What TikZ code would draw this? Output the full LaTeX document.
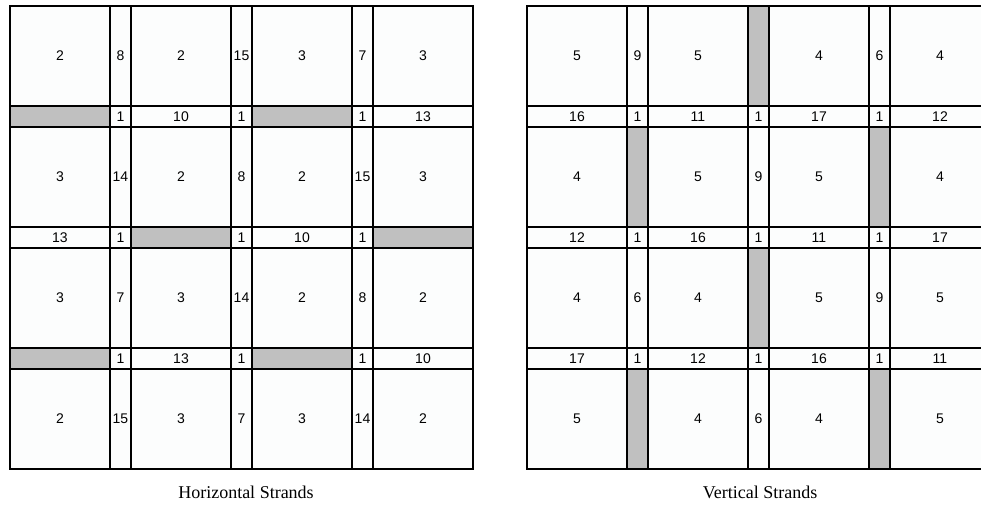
\documentclass[tikz,border=0pt]{standalone}
\usepackage{fontspec}
\setmainfont{Liberation Serif}
\newfontfamily\cellfont{Liberation Sans}
\usetikzlibrary{positioning}

\definecolor{shadegray}{HTML}{C0C0C0}
\definecolor{paper}{HTML}{FCFDFD}

% offsets and sizes of the rows/columns (px), big - slim - big ...
\def\cellpos{{0,100,121,221,242,342,363}}
\def\cellsize{{100,21,100,21,100,21,100}}

\begin{document}
\begin{tikzpicture}[x=0.75pt, y=-0.75pt,
  cell/.style={draw, line width=1.8pt, inner sep=0pt, outer sep=0pt, fill=paper,
    font=\cellfont\fontsize{10.5}{11}\selectfont},
  shaded/.style={fill=shadegray},
  caption/.style={font=\fontsize{13.5}{15}\selectfont}]
\useasboundingbox (0,0) rectangle (981,504);
\clip (0,0) rectangle (981,504);

% Horizontal strands (0 = shaded cell)
\begin{scope}[shift={(10,6)}]
\foreach \labels [count=\r] in {{2,8,2,15,3,7,3},{0,1,10,1,0,1,13},{3,14,2,8,2,15,3},
    {13,1,0,1,10,1,0},{3,7,3,14,2,8,2},{0,1,13,1,0,1,10},{2,15,3,7,3,14,2}} {
  \foreach \lab [count=\c] in \labels {
    \pgfmathsetmacro\cx{\cellpos[\c-1]+\cellsize[\c-1]/2}
    \pgfmathsetmacro\cy{\cellpos[\r-1]+\cellsize[\r-1]/2}
    \pgfmathsetmacro\w{\cellsize[\c-1]*0.75}
    \pgfmathsetmacro\h{\cellsize[\r-1]*0.75}
    \ifnum\lab=0
      \node[cell, shaded, minimum width=\w pt, minimum height=\h pt] (h-\r-\c) at (\cx,\cy) {};
    \else
      \node[cell, minimum width=\w pt, minimum height=\h pt] (h-\r-\c) at (\cx,\cy) {\lab};
    \fi
  }
}
\end{scope}
\node[caption] (hcap) at (246,492) {Horizontal Strands};

% Vertical strands
\begin{scope}[shift={(527,6)}]
\foreach \labels [count=\r] in {{5,9,5,0,4,6,4},{16,1,11,1,17,1,12},{4,0,5,9,5,0,4},
    {12,1,16,1,11,1,17},{4,6,4,0,5,9,5},{17,1,12,1,16,1,11},{5,0,4,6,4,0,5}} {
  \foreach \lab [count=\c] in \labels {
    \pgfmathsetmacro\cx{\cellpos[\c-1]+\cellsize[\c-1]/2}
    \pgfmathsetmacro\cy{\cellpos[\r-1]+\cellsize[\r-1]/2}
    \pgfmathsetmacro\w{\cellsize[\c-1]*0.75}
    \pgfmathsetmacro\h{\cellsize[\r-1]*0.75}
    \ifnum\lab=0
      \node[cell, shaded, minimum width=\w pt, minimum height=\h pt] (v-\r-\c) at (\cx,\cy) {};
    \else
      \node[cell, minimum width=\w pt, minimum height=\h pt] (v-\r-\c) at (\cx,\cy) {\lab};
    \fi
  }
}
\end{scope}
\node[caption] (vcap) at (760,492) {Vertical Strands};
\end{tikzpicture}
\end{document}
